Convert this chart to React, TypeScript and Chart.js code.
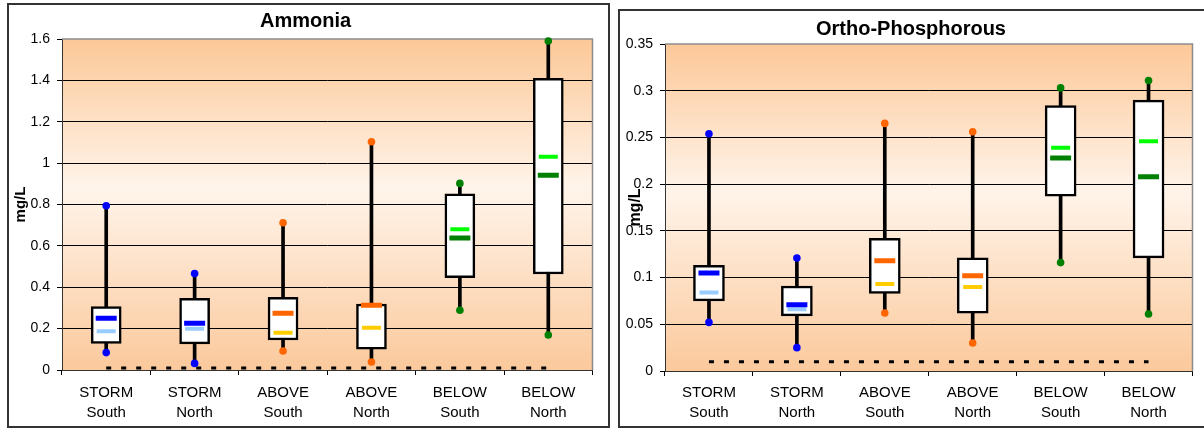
import React, { useEffect, useRef } from "react";
import { Chart, registerables } from "chart.js";

Chart.register(...registerables);

// ---------- data ----------
const categories = [
  ["STORM", "South"],
  ["STORM", "North"],
  ["ABOVE", "South"],
  ["ABOVE", "North"],
  ["BELOW", "South"],
  ["BELOW", "North"],
];

const ammoniaMin = [0.084, 0.032, 0.092, 0.039, 0.289, 0.169];
const ammoniaQ1 = [0.129, 0.126, 0.145, 0.101, 0.446, 0.464];
const ammoniaQ3 = [0.306, 0.347, 0.351, 0.319, 0.852, 1.41];
const ammoniaMax = [0.794, 0.466, 0.712, 1.103, 0.902, 1.59];
const ammoniaDark = [0.25, 0.226, 0.274, 0.313, 0.638, 0.941];
const ammoniaLight = [0.187, 0.2, 0.18, 0.204, 0.68, 1.031];
const ammoniaDetection = [0.01, 0.01, 0.01, 0.01, 0.01, 0.01];

const orthoMin = [0.052, 0.025, 0.062, 0.03, 0.116, 0.061];
const orthoQ1 = [0.075, 0.059, 0.083, 0.062, 0.187, 0.121];
const orthoQ3 = [0.113, 0.091, 0.142, 0.121, 0.284, 0.29];
const orthoMax = [0.254, 0.121, 0.265, 0.256, 0.303, 0.311];
const orthoDark = [0.105, 0.071, 0.118, 0.102, 0.228, 0.208];
const orthoLight = [0.084, 0.066, 0.093, 0.09, 0.239, 0.246];
const orthoDetection = [0.01, 0.01, 0.01, 0.01, 0.01, 0.01];

const darkColors = ["#0000FF", "#0000FF", "#FF6600", "#FF6600", "#008000", "#008000"];
const lightColors = ["#99CCFF", "#99CCFF", "#FFCC00", "#FFCC00", "#00FF00", "#00FF00"];
const dotColors = ["#0000FF", "#0000FF", "#FF6600", "#FF6600", "#008000", "#008000"];

// ---------- plugin ----------
const plotBg = {
  id: "plotBg",
  beforeDraw(chart: any) {
    const { ctx, chartArea: a } = chart;
    const g = ctx.createLinearGradient(0, a.top, 0, a.bottom);
    g.addColorStop(0, "#FCC898");
    g.addColorStop(0.45, "#FFF4EA");
    g.addColorStop(1, "#FBC99C");
    ctx.save();
    ctx.fillStyle = g;
    ctx.fillRect(a.left, a.top, a.right - a.left, a.bottom - a.top);
    ctx.restore();
  },
  beforeDatasetsDraw(chart: any) {
    const { ctx, chartArea: a } = chart;
    ctx.save();
    ctx.strokeStyle = "#8C8C8C";
    ctx.lineWidth = 1.5;
    ctx.beginPath();
    ctx.moveTo(a.left, a.top);
    ctx.lineTo(a.right, a.top);
    ctx.lineTo(a.right, a.bottom);
    ctx.stroke();
    ctx.restore();
  },
};

type PanelProps = {
  title: string;
  mins: number[];
  q1: number[];
  q3: number[];
  maxs: number[];
  dark: number[];
  light: number[];
  detection: number[];
  yMax: number;
  yStep: number;
  width: number;
  height: number;
  yWidth: number;
  xHeight: number;
  titleTop: number;
  titleBottom: number;
  xPad: number;
  boxWidth: number;
  yTitleSize: number;
  yTitlePad: number;
};

function Panel(p: PanelProps) {
  const ref = useRef<HTMLCanvasElement | null>(null);
  useEffect(() => {
    if (!ref.current) return;
    const chart = new Chart(ref.current, {
      type: "bar",
      data: {
        labels: categories,
        datasets: [
          {
            type: "bar",
            data: p.mins.map((v, i) => [v, p.maxs[i]]),
            backgroundColor: "#000",
            barThickness: 3,
            grouped: false,
            order: 10,
          } as any,
          {
            type: "bar",
            data: p.q1.map((v, i) => [v, p.q3[i]]),
            backgroundColor: "#FFFFFF",
            borderColor: "#000",
            borderWidth: 2.5,
            borderSkipped: false,
            barThickness: p.boxWidth,
            grouped: false,
            order: 9,
          } as any,
          {
            type: "line",
            data: p.detection,
            borderColor: "#000",
            borderWidth: 3,
            borderDash: [5, 10],
            pointRadius: 0,
            order: 8,
          } as any,
          {
            type: "line",
            data: p.light,
            showLine: false,
            pointStyle: "line",
            pointRadius: 9.5,
            pointBorderWidth: 4,
            pointBorderColor: lightColors,
            pointBackgroundColor: lightColors,
            order: 3,
          } as any,
          {
            type: "line",
            data: p.dark,
            showLine: false,
            pointStyle: "line",
            pointRadius: 10.5,
            pointBorderWidth: 5,
            pointBorderColor: darkColors,
            pointBackgroundColor: darkColors,
            order: 2,
          } as any,
          {
            type: "line",
            data: p.maxs,
            showLine: false,
            pointStyle: "circle",
            pointRadius: 3.8,
            pointBorderWidth: 0,
            pointBackgroundColor: dotColors,
            clip: false,
            order: 1,
          } as any,
          {
            type: "line",
            data: p.mins,
            showLine: false,
            pointStyle: "circle",
            pointRadius: 3.8,
            pointBorderWidth: 0,
            pointBackgroundColor: dotColors,
            clip: false,
            order: 1,
          } as any,
        ],
      },
      options: {
        responsive: false,
        animation: false,
        devicePixelRatio: 1,
        layout: { padding: { left: 0, right: 6, top: 0, bottom: 0 } },
        plugins: {
          legend: { display: false },
          tooltip: { enabled: false },
          title: {
            display: true,
            text: p.title,
            color: "#000",
            font: { family: "Arial, 'Liberation Sans'", size: 20, weight: "bold" },
            padding: { top: p.titleTop, bottom: p.titleBottom },
          },
        },
        scales: {
          x: {
            type: "category",
            offset: true,
            grid: {
              offset: true,
              drawOnChartArea: false,
              drawTicks: true,
              tickLength: 5,
              tickColor: "#000",
            },
            border: { display: true, color: "#333", width: 1 },
            ticks: {
              color: "#000",
              font: { family: "Arial, 'Liberation Sans'", size: 15, lineHeight: 1.333 },
              padding: p.xPad,
              maxRotation: 0,
              autoSkip: false,
            },
            afterFit(scale: any) {
              scale.height = p.xHeight;
            },
          },
          y: {
            min: 0,
            max: p.yMax,
            ticks: {
              stepSize: p.yStep,
              color: "#000",
              font: { family: "Arial, 'Liberation Sans'", size: 14 },
              padding: 7,
              callback: (v: any) => String(Number(Number(v).toFixed(3))),
            },
            grid: {
              color: (c: any) =>
                c.tick && Math.abs(c.tick.value - p.yMax) < 1e-9 ? "rgba(0,0,0,0)" : "#000",
              tickColor: "#000",
              tickLength: 5,
              lineWidth: 1,
            },
            border: { display: true, color: "#333", width: 1 },
            title: {
              display: true,
              text: "mg/L",
              color: "#000",
              font: { family: "Arial, 'Liberation Sans'", size: p.yTitleSize, weight: "bold" },
              padding: { top: p.yTitlePad, bottom: 0 },
            },
            afterFit(scale: any) {
              scale.width = p.yWidth;
            },
          },
        },
      } as any,
      plugins: [plotBg],
    });
    return () => chart.destroy();
  }, []);
  return <canvas ref={ref} width={p.width} height={p.height} style={{ display: "block" }} />;
}

export default function App() {
  return (
    <div
      style={{
        position: "absolute",
        left: 0,
        top: 0,
        width: 1204,
        height: 428,
        overflow: "hidden",
        background: "#fff",
      }}
    >
      <div
        style={{
          position: "absolute",
          left: 7,
          top: 3,
          width: 603,
          height: 425,
          boxSizing: "border-box",
          border: "2px solid #333",
          background: "#fff",
        }}
      >
        <Panel
          title="Ammonia"
          mins={ammoniaMin}
          q1={ammoniaQ1}
          q3={ammoniaQ3}
          maxs={ammoniaMax}
          dark={ammoniaDark}
          light={ammoniaLight}
          detection={ammoniaDetection}
          yMax={1.6}
          yStep={0.2}
          width={599}
          height={421}
          yWidth={53}
          xHeight={56}
          titleTop={4.5}
          titleBottom={5.5}
          xPad={8}
          boxWidth={30}
          yTitleSize={15}
          yTitlePad={3}
        />
      </div>
      <div
        style={{
          position: "absolute",
          left: 618,
          top: 9,
          width: 600,
          height: 419,
          boxSizing: "border-box",
          border: "2px solid #333",
          background: "#fff",
        }}
      >
        <Panel
          title="Ortho-Phosphorous"
          mins={orthoMin}
          q1={orthoQ1}
          q3={orthoQ3}
          maxs={orthoMax}
          dark={orthoDark}
          light={orthoLight}
          detection={orthoDetection}
          yMax={0.35}
          yStep={0.05}
          width={588}
          height={415}
          yWidth={45}
          xHeight={55}
          titleTop={6}
          titleBottom={3}
          xPad={7}
          boxWidth={31}
          yTitleSize={16}
          yTitlePad={6}
        />
      </div>
    </div>
  );
}
